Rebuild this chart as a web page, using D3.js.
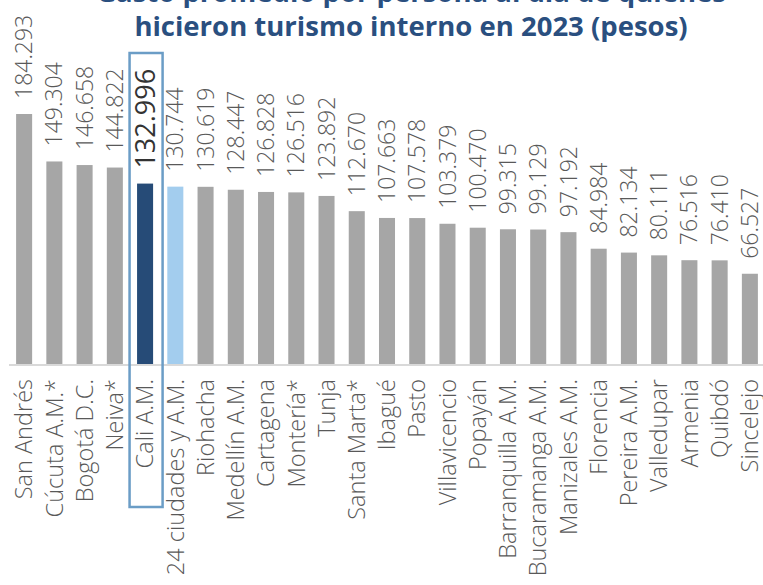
<!DOCTYPE html>
<html>
<head>
<meta charset="utf-8">
<script src="https://cdn.jsdelivr.net/npm/d3@7"></script>
<style>
  body { margin: 0; background: #fff; }
  svg { display: block; }
</style>
</head>
<body>
<svg id="chart"></svg>
<script>
// Ciudades ordenadas de mayor a menor gasto
const ciudades = ["San Andrés", "Cúcuta A.M.*", "Bogotá D.C.", "Neiva*", "Cali A.M.",
    "24 ciudades y A.M.", "Riohacha", "Medellín A.M.", "Cartagena", "Montería*", "Tunja",
    "Santa Marta*", "Ibagué", "Pasto", "Villavicencio", "Popayán", "Barranquilla A.M.",
    "Bucaramanga A.M.", "Manizales A.M.", "Florencia", "Pereira A.M.", "Valledupar",
    "Armenia", "Quibdó", "Sincelejo"];

// Gasto promedio por persona al día (pesos)
const gasto = [184293, 149304, 146658, 144822, 132996, 130744, 130619, 128447, 126828,
    126516, 123892, 112670, 107663, 107578, 103379, 100470, 99315, 99129, 97192, 84984,
    82134, 80111, 76516, 76410, 66527];

const titulo = ["Gasto promedio por persona al día de quienes",
    "hicieron turismo interno en 2023 (pesos)"];

const destacada = "Cali A.M.";
const total = "24 ciudades y A.M.";

const width = 763, height = 585;
const data = ciudades.map((c, i) => ({ ciudad: c, valor: gasto[i] }));

const svg = d3.select("#chart")
    .attr("width", width)
    .attr("height", height);

// formato con punto de miles
const es = d3.formatLocale({ decimal: ",", thousands: ".", grouping: [3], currency: ["$", ""] });
const fmt = es.format(",d");

const x = d3.scaleBand()
    .domain(ciudades)
    .range([9, 765])
    .paddingInner(0.47)
    .paddingOuter(0.235);

const y = d3.scaleLinear()
    .domain([0, 184293])
    .range([364, 114]);

// Barras
svg.selectAll("rect.bar")
    .data(data)
    .enter()
    .append("rect")
    .attr("class", "bar")
    .attr("x", d => x(d.ciudad))
    .attr("y", d => y(d.valor))
    .attr("width", x.bandwidth())
    .attr("height", d => y(0) - y(d.valor))
    .attr("fill", d => d.ciudad === destacada ? "#264b77" : (d.ciudad === total ? "#a3cdee" : "#a6a6a6"));

// Linea base
svg.append("line")
    .attr("x1", 9).attr("x2", 763)
    .attr("y1", y(0) + 1).attr("y2", y(0) + 1)
    .attr("stroke", "#d9d9d9")
    .attr("stroke-width", 2);

// Etiquetas de valor
svg.selectAll("text.valor")
    .data(data)
    .enter()
    .append("text")
    .attr("class", "valor")
    .attr("transform", d => "translate(" + (x(d.ciudad) + x.bandwidth() / 2) + "," + (y(d.valor) - 15) + ") rotate(-90)")
    .attr("dy", "0.35em")
    .style("font-family", "'Open Sans', sans-serif")
    .style("font-size", d => d.ciudad === destacada ? "27px" : "23px")
    .style("font-weight", d => d.ciudad === destacada ? 500 : 300)
    .attr("fill", d => d.ciudad === destacada ? "#333333" : "#595959")
    .text(d => fmt(d.valor));

// Etiquetas de categoria
svg.selectAll("text.cat")
    .data(data)
    .enter()
    .append("text")
    .attr("class", "cat")
    .attr("transform", d => "translate(" + (x(d.ciudad) + x.bandwidth() / 2) + "," + (y(0) + 15) + ") rotate(-90)")
    .attr("dy", "0.35em")
    .style("text-anchor", "end")
    .style("font-family", "'Open Sans', sans-serif")
    .style("font-size", "23.5px")
    .style("font-weight", 300)
    .attr("fill", "#595959")
    .text(d => d.ciudad);

// Recuadro de Cali
svg.append("rect")
    .attr("x", x(destacada) - 7.5)
    .attr("y", 53)
    .attr("width", x.bandwidth() + 17)
    .attr("height", 454)
    .attr("fill", "none")
    .attr("stroke", "#6b9dc6")
    .attr("stroke-width", 2.5);

// Titulo
svg.append("text")
    .attr("x", 411)
    .attr("text-anchor", "middle")
    .style("font-family", "'Open Sans', sans-serif")
    .style("font-size", "27.5px")
    .style("font-weight", 700)
    .attr("fill", "#2a4f7f")
    .selectAll("tspan")
    .data(titulo)
    .enter()
    .append("tspan")
    .attr("x", 411)
    .attr("y", (d, i) => 2 + i * 34)
    .text(d => d);
</script>
</body>
</html>
